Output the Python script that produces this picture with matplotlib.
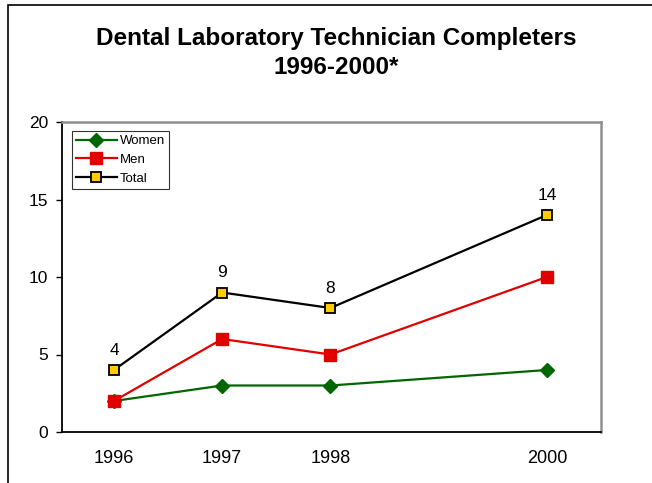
import matplotlib
matplotlib.use("Agg")
import matplotlib.pyplot as plt
from matplotlib.patches import Rectangle

plt.rcParams['font.family'] = ['Liberation Sans', 'DejaVu Sans']

years = [1996, 1997, 1998, 2000]
women = [2, 3, 3, 4]
men = [2, 6, 5, 10]
total = [4, 9, 8, 14]

fig = plt.figure(figsize=(6.52, 4.83), dpi=100)
ax = fig.add_axes([62/652, 1 - 432/483, 539/652, 310/483])

ax.plot(years, women, color='#006600', lw=1.6, marker='D', ms=7.5, label='Women', zorder=3)
ax.plot(years, men, color='#e00000', lw=1.6, marker='s', ms=8, label='Men', zorder=3)
ax.plot(years, total, color='black', lw=1.6, marker='s', ms=7.5,
        mfc='#ffcc00', mec='black', mew=1.3, label='Total', zorder=4)

for x, v in zip(years, total):
    ax.annotate(str(v), (x, v), xytext=(0, 11), textcoords='offset points',
                ha='center', va='baseline', fontsize=12.5)

ax.set_xlim(1995.52, 2000.5)
ax.set_ylim(0, 20)
ax.set_yticks([0, 5, 10, 15, 20])
ax.set_xticks(years)
ax.set_xticklabels([str(y) for y in years])
ax.tick_params(axis='y', length=4.5, width=1, labelsize=12.5, pad=5.5)
ax.tick_params(axis='x', length=0, labelsize=13, pad=13)

for side in ['top', 'right']:
    ax.spines[side].set_color('#909090')
    ax.spines[side].set_linewidth(1.8)
for side in ['left', 'bottom']:
    ax.spines[side].set_color('black')
    ax.spines[side].set_linewidth(1.3)

leg = ax.legend(loc='upper left', bbox_to_anchor=(10/539, 1 - 9/310), fontsize=9.5,
                frameon=True, fancybox=False, edgecolor='black', borderpad=0.3,
                labelspacing=0.5, handlelength=3.1, handletextpad=0.25, borderaxespad=0)
leg.get_frame().set_linewidth(0.8)

fig.text(0.515, 1 - 38/483, 'Dental Laboratory Technician Completers',
         ha='center', va='center', fontsize=17.5, fontweight='bold')
fig.text(0.515, 1 - 68/483, '1996-2000*',
         ha='center', va='center', fontsize=17.5, fontweight='bold')

fig.patches.append(Rectangle((8/652, -0.1), 1.2, 1 - 5/483 + 0.1,
                             transform=fig.transFigure, fill=False,
                             edgecolor='black', lw=1.2))

fig.savefig('out.png', dpi=100)
